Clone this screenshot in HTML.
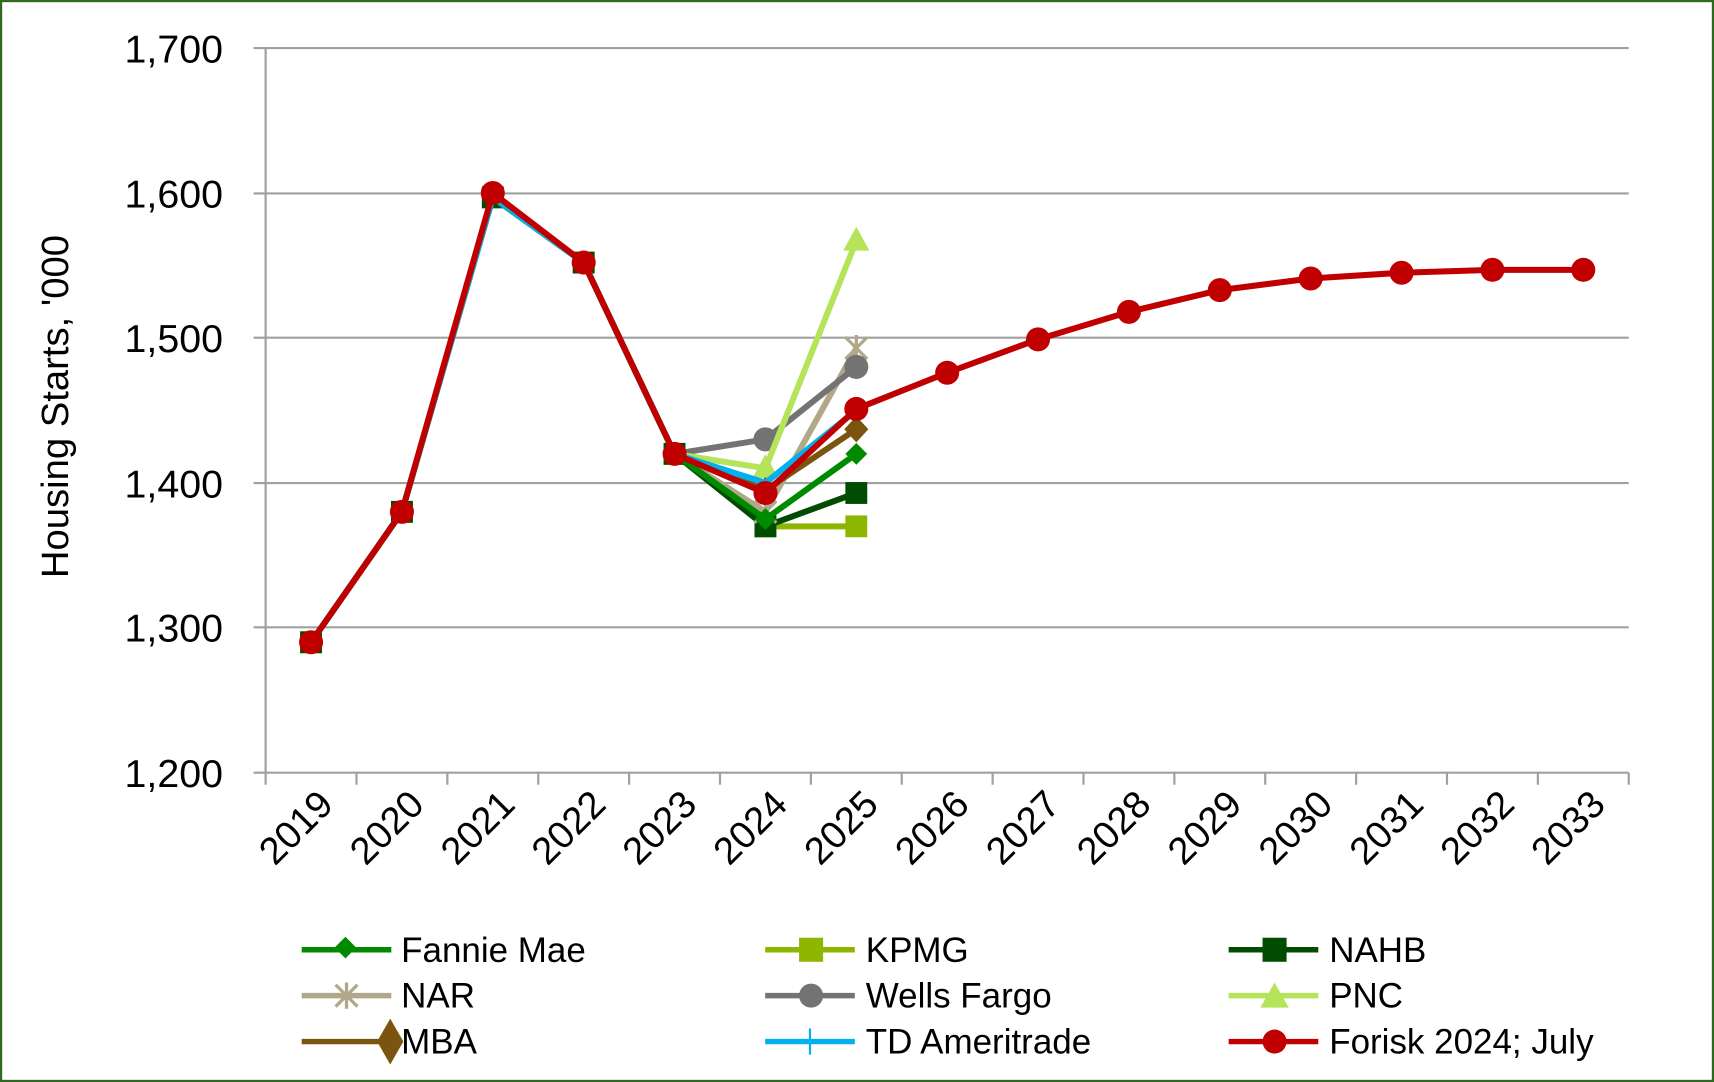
<!DOCTYPE html>
<html><head><meta charset="utf-8"><style>body{margin:0;background:#fff}svg{display:block}text{font-family:"Liberation Sans",sans-serif;fill:#000}</style></head><body>
<svg width="1714" height="1082" viewBox="0 0 1568 990" preserveAspectRatio="none" xmlns="http://www.w3.org/2000/svg">
<rect x="1" y="1" width="1566" height="988" fill="#fff" stroke="#2e6b1e" stroke-width="2"/>
<g stroke="#a0a0a0" stroke-width="2">
<line x1="243" y1="44" x2="1490" y2="44"/><line x1="243" y1="177" x2="1490" y2="177"/><line x1="243" y1="309" x2="1490" y2="309"/><line x1="243" y1="442" x2="1490" y2="442"/><line x1="243" y1="574" x2="1490" y2="574"/><line x1="243" y1="707" x2="1490" y2="707"/>
<line x1="243" y1="44" x2="243" y2="707"/>
<line x1="232" y1="44" x2="243" y2="44"/><line x1="232" y1="177" x2="243" y2="177"/><line x1="232" y1="309" x2="243" y2="309"/><line x1="232" y1="442" x2="243" y2="442"/><line x1="232" y1="574" x2="243" y2="574"/><line x1="232" y1="707" x2="243" y2="707"/>
</g>
<g stroke="#a0a0a0" stroke-width="2" id="xt"></g>
<g font-size="36" text-anchor="end">
<text x="204" y="57">1,700</text><text x="204" y="190">1,600</text><text x="204" y="322">1,500</text><text x="204" y="455">1,400</text><text x="204" y="587">1,300</text><text x="204" y="720">1,200</text>
</g>
<text font-size="35" transform="translate(62,372) rotate(-90)" text-anchor="middle">Housing Starts, '000</text>
<g id="xl" font-size="35" text-anchor="end"></g>
<g id="series"></g>
<g font-size="32">
<line x1="276" y1="869" x2="358" y2="869" stroke="#008a00" stroke-width="5"/><rect x="309" y="860" width="14" height="14" fill="#008a00" transform="rotate(45 316 867)"/><text x="367" y="880">Fannie Mae</text>
<line x1="700" y1="869" x2="782" y2="869" stroke="#8db600" stroke-width="5"/><rect x="731" y="858" width="22" height="22" fill="#8db600"/><text x="792" y="880">KPMG</text>
<line x1="1124" y1="869" x2="1206" y2="869" stroke="#004c00" stroke-width="5"/><rect x="1155" y="858" width="22" height="22" fill="#004c00"/><text x="1216" y="880">NAHB</text>
<line x1="276" y1="911" x2="358" y2="911" stroke="#b0a888" stroke-width="5"/><path d="M307 901L327 921M327 901L307 921M317 899L317 923" stroke="#b0a888" stroke-width="3"/><text x="367" y="922">NAR</text>
<line x1="700" y1="911" x2="782" y2="911" stroke="#737373" stroke-width="5"/><circle cx="742" cy="911" r="11" fill="#737373"/><text x="792" y="922">Wells Fargo</text>
<line x1="1124" y1="911" x2="1206" y2="911" stroke="#b5e35a" stroke-width="5"/><polygon points="1166,899 1179,922 1153,922" fill="#b5e35a"/><text x="1216" y="922">PNC</text>
<line x1="276" y1="953" x2="358" y2="953" stroke="#7b5410" stroke-width="5"/><polygon points="357,932 369,953 357,974 345,953" fill="#7b5410"/><text x="367" y="964">MBA</text>
<line x1="700" y1="953" x2="782" y2="953" stroke="#00b0f0" stroke-width="5"/><path d="M741 941L741 965" stroke="#00b0f0" stroke-width="2"/><text x="792" y="964">TD Ameritrade</text>
<line x1="1124" y1="953" x2="1206" y2="953" stroke="#c00000" stroke-width="5"/><circle cx="1166" cy="953" r="11" fill="#c00000"/><text x="1216" y="964">Forisk 2024; July</text>
</g>
<script>
var NS="http://www.w3.org/2000/svg";
function el(n,a,p){var e=document.createElementNS(NS,n);for(var k in a)e.setAttribute(k,a[k]);p.appendChild(e);return e;}
var xt=document.getElementById('xt'),xl=document.getElementById('xl'),S=document.getElementById('series');
var w=(1490-243)/15;
for(var i=0;i<=15;i++){var x=243+w*i;el('line',{x1:x,y1:707,x2:x,y2:718},xt);}
for(var i=0;i<15;i++){var cx=243+w*(i+0.5);var t=el('text',{x:0,y:0,transform:'translate('+(cx+22)+',738) rotate(-45)'},xl);t.textContent=2019+i;}
function X(i){return 243+w*(i+0.5);} function Y(v){return 707-(v-1200)*1.326;}
var base=[1290,1380,1597,1552,1420];
var ser=[
['#8db600',[1370,1370],'sq'],['#004c00',[1370,1393],'sq'],['#b0a888',[1380,1493],'star'],
['#737373',[1430,1480],'circ'],['#b5e35a',[1410,1567],'tri'],['#7b5410',[1395,1437],'dia'],
['#008a00',[1375,1420],'dia2'],['#00b0f0',[1400,1450],'none']];
ser.forEach(function(s){var d=base.concat(s[1]);var p=d.map(function(v,i){return X(i)+','+Y(v)}).join(' ');
el('polyline',{points:p,fill:'none',stroke:s[0],'stroke-width':5.5,'stroke-linejoin':'round'},S);
d.forEach(function(v,i){var x=X(i),y=Y(v);if(i<5&&s[2]!='sq')return;
if(s[2]=='sq')el('rect',{x:x-10,y:y-10,width:20,height:20,fill:s[0]},S);
else if(s[2]=='circ')el('circle',{cx:x,cy:y,r:11,fill:s[0]},S);
else if(s[2]=='tri')el('polygon',{points:(x)+','+(y-13)+' '+(x+12)+','+(y+9)+' '+(x-12)+','+(y+9),fill:s[0]},S);
else if(s[2]=='dia')el('polygon',{points:x+','+(y-12)+' '+(x+11)+','+y+' '+x+','+(y+12)+' '+(x-11)+','+y,fill:s[0]},S);
else if(s[2]=='dia2')el('polygon',{points:x+','+(y-10)+' '+(x+10)+','+y+' '+x+','+(y+10)+' '+(x-10)+','+y,fill:s[0]},S);
else if(s[2]=='star'){el('path',{d:'M'+(x-10)+' '+(y-10)+'L'+(x+10)+' '+(y+10)+'M'+(x+10)+' '+(y-10)+'L'+(x-10)+' '+(y+10)+'M'+x+' '+(y-12)+'L'+x+' '+(y+12),stroke:s[0],'stroke-width':3},S);}
});});
var f=[1290,1380,1600,1552,1420,1393,1451,1476,1499,1518,1533,1541,1545,1547,1547];
el('polyline',{points:f.map(function(v,i){return X(i)+','+Y(v)}).join(' '),fill:'none',stroke:'#c00000','stroke-width':5.5,'stroke-linejoin':'round'},S);
f.forEach(function(v,i){el('circle',{cx:X(i),cy:Y(v),r:11,fill:'#c00000'},S);});
</script>
</svg>
</body></html>
